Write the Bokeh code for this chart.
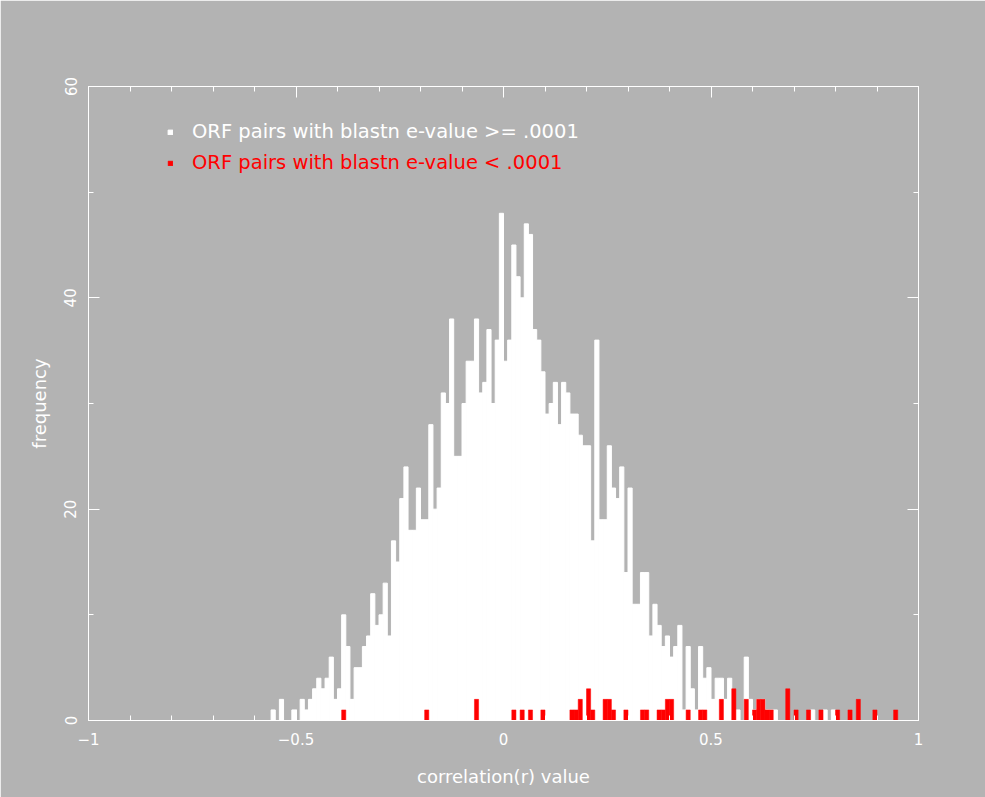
import numpy as np
from bokeh.plotting import figure
from bokeh.models import ColumnDataSource, FixedTicker, LinearAxis, Legend, LegendItem
from bokeh.embed import file_html
from bokeh.resources import INLINE

# histogram bins: width 0.01, first bin starts at r = -0.56
BIN_WIDTH = 0.01
FIRST_BIN_LEFT = -0.56

# ORF pairs with blastn e-value >= .0001 (white)
white_counts = [
    1, 0, 2, 0, 0, 1, 0, 2, 1, 2,
    3, 4, 3, 4, 6, 2, 3, 10, 7, 2,
    5, 5, 7, 8, 12, 9, 10, 13, 8, 17,
    15, 21, 24, 18, 18, 22, 19, 19, 28, 20,
    22, 31, 30, 38, 25, 25, 30, 34, 34, 38,
    31, 32, 37, 30, 36, 48, 34, 36, 45, 42,
    40, 47, 46, 37, 36, 33, 29, 30, 32, 28,
    32, 31, 29, 29, 27, 26, 26, 17, 36, 19,
    19, 26, 22, 21, 24, 14, 22, 11, 11, 14,
    14, 8, 11, 9, 7, 8, 6, 7, 9, 1,
    7, 3, 1, 7, 4, 5, 2, 4, 4, 2,
    4, 0, 1, 0, 6, 2, 1, 2, 2, 1,
    1, 1, 0, 0, 0, 0, 0, 0, 0, 0,
    1, 0, 0, 1, 0, 1, 0, 0, 0, 0,
    0, 0, 0, 0, 0, 0, 0, 0, 0, 0, 0,
]

# ORF pairs with blastn e-value < .0001 (red)
red_counts = [
    0, 0, 0, 0, 0, 0, 0, 0, 0, 0,
    0, 0, 0, 0, 0, 0, 0, 1, 0, 0,
    0, 0, 0, 0, 0, 0, 0, 0, 0, 0,
    0, 0, 0, 0, 0, 0, 0, 1, 0, 0,
    0, 0, 0, 0, 0, 0, 0, 0, 0, 2,
    0, 0, 0, 0, 0, 0, 0, 0, 1, 0,
    1, 0, 1, 0, 0, 1, 0, 0, 0, 0,
    0, 0, 1, 1, 2, 0, 3, 1, 0, 0,
    2, 2, 1, 0, 0, 1, 0, 0, 0, 1,
    1, 0, 0, 1, 1, 2, 2, 0, 0, 0,
    1, 0, 0, 1, 1, 0, 0, 0, 2, 0,
    0, 3, 0, 0, 2, 0, 1, 2, 2, 1,
    1, 0, 0, 0, 3, 0, 1, 0, 0, 1,
    0, 0, 1, 0, 0, 0, 1, 0, 0, 1,
    0, 2, 0, 0, 0, 1, 0, 0, 0, 0, 1,
]

x_major_ticks = [-1, -0.5, 0, 0.5, 1]
x_tick_labels = ["\u22121", "\u22120.5", "0", "0.5", "1"]
y_major_ticks = [0, 20, 40, 60]

BG = "#b3b3b3"
FG = "#ffffff"
FONT = "DejaVu Sans"

centers = [FIRST_BIN_LEFT + BIN_WIDTH * (i + 0.5) for i in range(len(white_counts))]
src = ColumnDataSource(dict(x=centers, white=white_counts, red=red_counts))

p = figure(width=985, height=797, x_range=(-1, 1), y_range=(0, 60),
           output_backend="svg", toolbar_location=None,
           min_border_left=88, min_border_right=67, min_border_top=86, min_border_bottom=77,
           x_axis_label="correlation(r) value", y_axis_label="frequency")
p.background_fill_color = BG
p.border_fill_color = BG
p.outline_line_color = FG
p.outline_line_width = 1
p.grid.visible = False

rw = p.vbar(x="x", top="white", width=BIN_WIDTH, source=src,
            fill_color="white", line_color="white", line_width=1)
rr = p.vbar(x="x", top="red", width=BIN_WIDTH, source=src,
            fill_color="#ff0000", line_color="#ff0000", line_width=0.5)

xt = FixedTicker(ticks=x_major_ticks, minor_ticks=[round(-1 + 0.1 * i, 2) for i in range(21)])
yt = FixedTicker(ticks=y_major_ticks, minor_ticks=[10 * i for i in range(7)])

def style_axis(ax, ticker, labels=True):
    ax.ticker = ticker
    ax.axis_line_color = FG
    ax.major_tick_line_color = FG
    ax.minor_tick_line_color = FG
    ax.major_tick_in = 11
    ax.major_tick_out = 0
    ax.minor_tick_in = 5
    ax.minor_tick_out = 0
    ax.major_label_text_color = FG if labels else None
    ax.major_label_text_font = FONT
    ax.major_label_text_font_size = "15px"
    ax.axis_label_text_color = FG
    ax.axis_label_text_font = FONT
    ax.axis_label_text_font_size = "18px"
    ax.axis_label_text_font_style = "normal"

xa = p.xaxis[0]
style_axis(xa, xt)
xa.major_label_overrides = {t: s for t, s in zip(x_major_ticks, x_tick_labels)}
xa.major_label_standoff = 12
xa.axis_label_standoff = 18

ya = p.yaxis[0]
style_axis(ya, yt)
ya.major_label_orientation = "vertical"
ya.major_label_standoff = 12
ya.axis_label_standoff = 12

top_ax = LinearAxis()
style_axis(top_ax, FixedTicker(ticks=x_major_ticks, minor_ticks=[round(-1 + 0.1 * i, 2) for i in range(21)]), labels=False)
top_ax.major_label_text_font_size = "0px"
top_ax.major_label_standoff = 0
p.add_layout(top_ax, "above")

right_ax = LinearAxis()
style_axis(right_ax, FixedTicker(ticks=y_major_ticks, minor_ticks=[10 * i for i in range(7)]), labels=False)
right_ax.major_label_text_font_size = "0px"
right_ax.major_label_standoff = 0
p.add_layout(right_ax, "right")

def make_legend(label, renderer, color, loc):
    lg = Legend(items=[LegendItem(label=label, renderers=[renderer])], location=loc)
    lg.background_fill_alpha = 0
    lg.border_line_color = None
    lg.padding = 0
    lg.margin = 0
    lg.spacing = 0
    lg.glyph_width = 6
    lg.glyph_height = 6
    lg.label_standoff = 19
    lg.label_height = 20
    lg.label_text_font = FONT
    lg.label_text_font_size = "19.5px"
    lg.label_text_color = color
    lg.click_policy = "none"
    return lg

p.add_layout(make_legend("ORF pairs with blastn e-value >= .0001", rw, "#ffffff", (79, 577)))
p.add_layout(make_legend("ORF pairs with blastn e-value < .0001", rr, "#ff0000", (79, 546)))

open("out.html", "w").write(file_html(p, INLINE))
